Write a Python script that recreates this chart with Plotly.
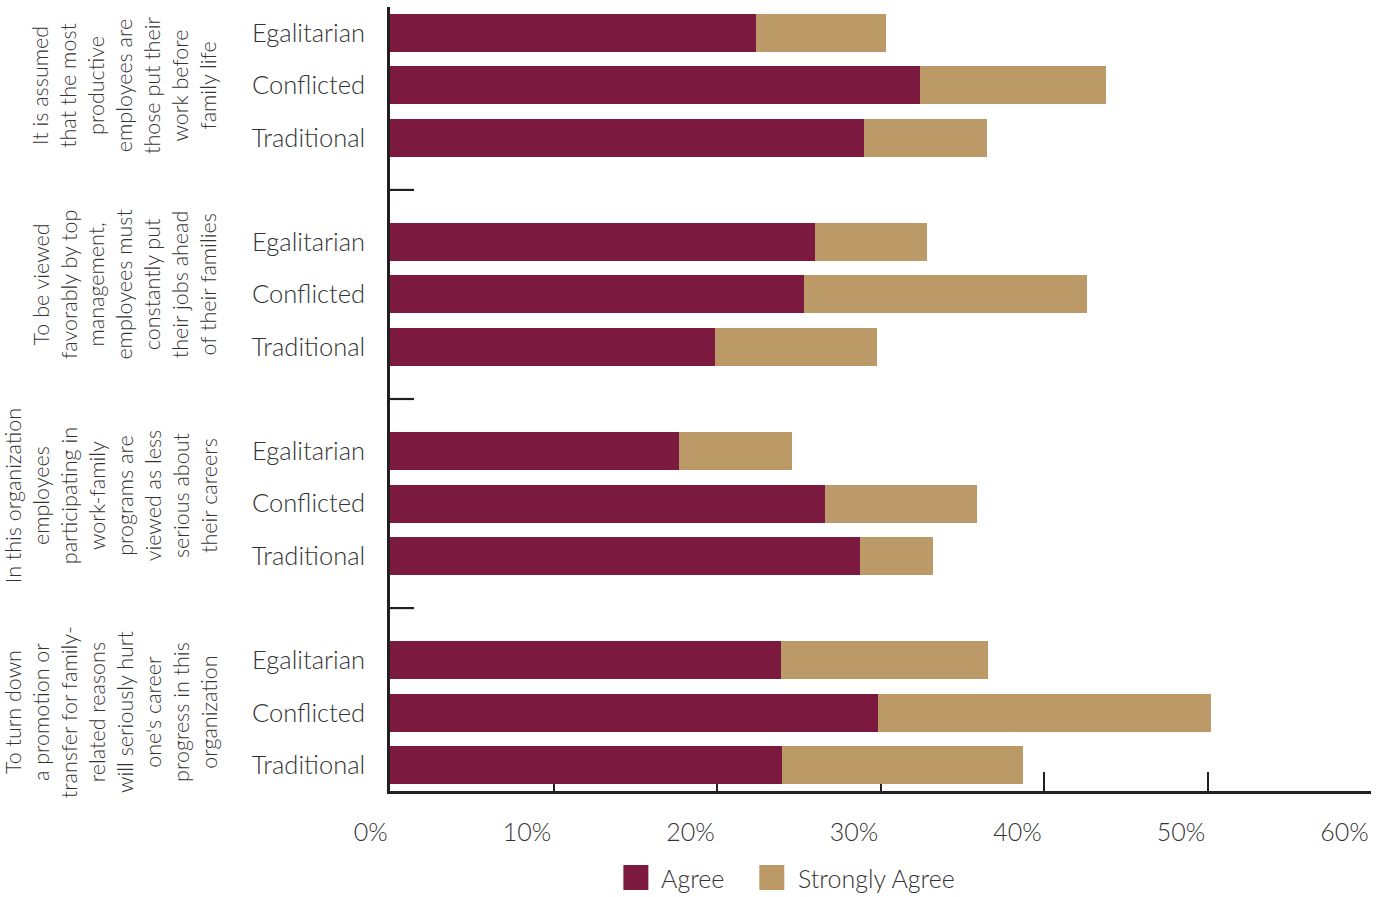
import plotly.graph_objects as go

# ---- data ----
groups = [
    "It is assumed<br>that the most<br>productive<br>employees are<br>those put their<br>work before<br>family life",
    "To be viewed<br>favorably by top<br>management,<br>employees must<br>constantly put<br>their jobs ahead<br>of their families",
    "In this organization<br>employees<br>participating in<br>work-family<br>programs are<br>viewed as less<br>serious about<br>their careers",
    "To turn down<br>a promotion or<br>transfer for family-<br>related reasons<br>will seriously hurt<br>one's career<br>progress in this<br>organization",
]
categories = ["Egalitarian", "Conflicted", "Traditional"]
agree = [
    [22.4, 32.4, 29.0],
    [26.0, 25.3, 19.9],
    [17.7, 26.6, 28.75],
    [23.9, 29.85, 24.0],
]
strongly_agree = [
    [7.95, 11.4, 7.5],
    [6.85, 17.3, 9.9],
    [6.9, 9.3, 4.45],
    [12.7, 20.35, 14.7],
]
x_tickvals = [0, 10, 20, 30, 40, 50, 60]
x_ticktext = ["0%", "10%", "20%", "30%", "40%", "50%", "60%"]
series_names = ["Agree", "Strongly Agree"]

# ---- styling ----
C_AGREE = "#7b193e"
C_SA = "#bb9a67"
AX = "#231f20"
TXT = "#333333"
FONT = "Lato"
WT = 300

slots = len(categories) + 1
ypos, ylabels, a_vals, s_vals = [], [], [], []
for g in range(len(groups)):
    for i, c in enumerate(categories):
        ypos.append(g * slots + i)
        ylabels.append(c)
        a_vals.append(agree[g][i])
        s_vals.append(strongly_agree[g][i])

fig = go.Figure()
fig.add_trace(go.Bar(y=ypos, x=a_vals, orientation="h", name=series_names[0],
                     marker=dict(color=C_AGREE, line=dict(width=0)), width=0.727,
                     showlegend=False))
fig.add_trace(go.Bar(y=ypos, x=s_vals, orientation="h", name=series_names[1],
                     marker=dict(color=C_SA, line=dict(width=0)), width=0.727,
                     showlegend=False))

W, H = 1387, 897
L, R, T, B = 389.5, 16, 7, 106
pw = W - L - R
ph = H - T - B

def px(x):
    return (x - L) / pw

def py(y):
    return (H - B - y) / ph

shapes = []
# group separator ticks on the y axis
for g in range(len(groups) - 1):
    sep = g * slots + len(categories)
    shapes.append(dict(type="line", xref="x", yref="y", xsizemode="pixel", xanchor=0,
                       x0=0, x1=24, y0=sep, y1=sep, line=dict(color=AX, width=2.2)))

annotations = []
offsets = [0.0, -0.2, -0.15, 0.0]
for g, text in enumerate(groups):
    annotations.append(dict(text=text, xref="paper", yref="y", x=px(223),
                            y=g * slots + 1 + offsets[g], xanchor="right", yanchor="middle",
                            textangle=-90, showarrow=False, align="center",
                            font=dict(family=FONT, size=21.5, color=TXT, weight=WT)))

# manual legend
leg = [(623, 659, C_AGREE, series_names[0]), (759, 796, C_SA, series_names[1])]
for sx, tx, col, name in leg:
    shapes.append(dict(type="rect", xref="paper", yref="paper",
                       x0=px(sx), x1=px(sx + 25), y0=py(890), y1=py(865),
                       fillcolor=col, line=dict(width=0)))
    annotations.append(dict(text=name, xref="paper", yref="paper", x=px(tx), y=py(878),
                            xanchor="left", yanchor="middle", showarrow=False,
                            font=dict(family=FONT, size=25, color=TXT, weight=WT)))

fig.update_layout(
    width=W, height=H,
    margin=dict(l=L, r=R, t=T, b=B, pad=0),
    barmode="stack",
    bargap=0,
    plot_bgcolor="white", paper_bgcolor="white",
    showlegend=False,
    shapes=shapes,
    annotations=annotations,
    font=dict(family=FONT, color=TXT, weight=WT),
    xaxis=dict(range=[0, 60], tickvals=x_tickvals, ticktext=x_ticktext,
               ticks="inside", ticklen=19, tickwidth=2.2, tickcolor=AX,
               showline=True, linecolor=AX, linewidth=2.5, showgrid=False,
               zeroline=False, layer="below traces",
               ticklabelposition="outside left", ticklabelstandoff=17,
               tickfont=dict(family=FONT, size=25, color=TXT, weight=WT), fixedrange=True),
    yaxis=dict(range=[len(groups) * slots - 1.5, -0.5], tickvals=ypos, ticktext=ylabels,
               ticks="", showline=True, linecolor=AX, linewidth=2.5, showgrid=False,
               zeroline=False, ticklabelstandoff=17,
               tickfont=dict(family=FONT, size=25.5, color=TXT, weight=WT), fixedrange=True),
)

fig.write_html("out.html", config={"displayModeBar": False},
               post_script="document.body.style.margin='0';document.body.style.overflow='hidden';")
